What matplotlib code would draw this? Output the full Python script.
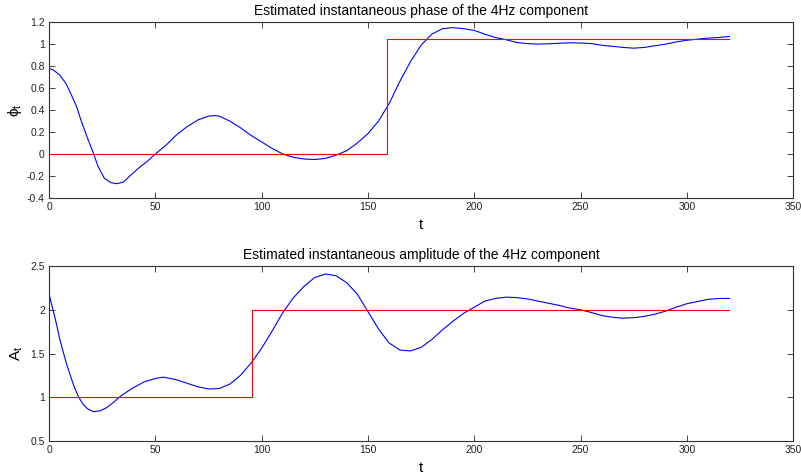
import numpy as np
import matplotlib.pyplot as plt

plt.rcParams['font.family'] = ['Liberation Sans', 'DejaVu Sans']
plt.rcParams['mathtext.fontset'] = 'custom'
plt.rcParams['mathtext.rm'] = 'Liberation Sans'
plt.rcParams['mathtext.it'] = 'Liberation Sans'

# estimated phase (blue)
phase_t = [0, 2, 5, 8, 10, 13, 15, 18, 21, 23, 26, 29, 32, 35, 38, 42, 46, 50, 55,
           60, 65, 70, 75, 78, 80, 85, 90, 95, 100, 105, 110, 115, 120, 125, 130,
           135, 140, 145, 150, 155, 160, 165, 170, 175, 180, 185, 190, 195, 200,
           205, 210, 215, 220, 225, 230, 235, 240, 245, 250, 255, 260, 265, 270,
           275, 280, 285, 290, 295, 300, 305, 310, 315, 320]
phase_est = [0.78, 0.765, 0.72, 0.64, 0.56, 0.43, 0.31, 0.15, 0.0, -0.11, -0.22,
             -0.26, -0.27, -0.255, -0.2, -0.13, -0.07, 0.0, 0.08, 0.175, 0.25, 0.31,
             0.345, 0.35, 0.345, 0.30, 0.24, 0.17, 0.11, 0.05, 0.0, -0.03, -0.045,
             -0.05, -0.04, -0.01, 0.03, 0.10, 0.185, 0.30, 0.46, 0.66, 0.84, 0.99,
             1.09, 1.14, 1.15, 1.14, 1.125, 1.09, 1.06, 1.04, 1.015, 1.005, 1.0,
             1.003, 1.008, 1.012, 1.01, 1.005, 0.99, 0.98, 0.97, 0.963, 0.97, 0.985,
             1.0, 1.02, 1.035, 1.045, 1.055, 1.06, 1.07]
# true phase (red step)
phase_true_t = [0, 159, 159, 320]
phase_true = [0, 0, 1.045, 1.045]

# estimated amplitude (blue)
amp_t = [0, 3, 5, 8, 10, 12, 14, 16, 18, 21, 24, 27, 30, 34, 39, 45, 51, 54, 60,
         65, 70, 75, 80, 85, 90, 95, 100, 105, 110, 115, 120, 125, 130, 135, 140,
         145, 150, 155, 160, 165, 170, 175, 180, 185, 190, 195, 200, 205, 210, 215,
         220, 225, 230, 235, 240, 245, 250, 255, 260, 265, 270, 275, 280, 285, 290,
         295, 300, 305, 310, 315, 320]
amp_est = [2.18, 1.89, 1.67, 1.40, 1.25, 1.11, 1.0, 0.92, 0.87, 0.835, 0.845, 0.88,
           0.935, 1.02, 1.10, 1.18, 1.22, 1.23, 1.2, 1.16, 1.12, 1.095, 1.10, 1.15,
           1.25, 1.39, 1.56, 1.76, 1.97, 2.14, 2.27, 2.37, 2.41, 2.39, 2.31, 2.18,
           1.98, 1.78, 1.62, 1.54, 1.53, 1.57, 1.66, 1.77, 1.87, 1.96, 2.03, 2.10,
           2.13, 2.145, 2.14, 2.125, 2.1, 2.075, 2.05, 2.02, 2.0, 1.97, 1.935,
           1.915, 1.905, 1.91, 1.925, 1.95, 1.985, 2.03, 2.07, 2.095, 2.12, 2.13,
           2.13]
amp_true_t = [0, 95.5, 95.5, 320]
amp_true = [1, 1, 2, 2]

fig = plt.figure(figsize=(8.01, 4.74), dpi=100)
ax1 = fig.add_axes([0.0612, 0.5823, 0.929, 0.371])
ax2 = fig.add_axes([0.0612, 0.0696, 0.929, 0.369])


def style(ax, ylim, yticks):
    ax.set_xlim(0, 350)
    ax.set_ylim(*ylim)
    ax.set_xticks(np.arange(0, 351, 50))
    ax.set_yticks(yticks)
    ax.set_yticklabels([f'{v:g}' for v in yticks])
    ax.tick_params(direction='in', top=True, right=True, length=4, width=0.6,
                   labelsize=7.5, colors='#222222', pad=3)
    for s in ax.spines.values():
        s.set_color('#333333')
        s.set_linewidth(0.8)
    ax.set_xlabel('t', fontsize=11, labelpad=4)


ax1.plot(phase_t, phase_est, color='#0000ff', lw=0.8)
ax1.plot(phase_true_t, phase_true, color='#ff0000', lw=0.8)
style(ax1, (-0.4, 1.2), [-0.4, -0.2, 0, 0.2, 0.4, 0.6, 0.8, 1, 1.2])
ax1.set_ylabel(r'$\phi_t$', fontsize=11, labelpad=2)
ax1.set_title('Estimated instantaneous phase of the 4Hz component', fontsize=10, pad=5)

ax2.plot(amp_t, amp_est, color='#0000ff', lw=0.8)
ax2.plot(amp_true_t, amp_true, color='#ff0000', lw=0.8)
style(ax2, (0.5, 2.5), [0.5, 1, 1.5, 2, 2.5])
ax2.set_ylabel(r'$\mathrm{A}_\mathrm{t}$', fontsize=11, labelpad=4)
ax2.set_title('Estimated instantaneous amplitude of the 4Hz component', fontsize=10, pad=5)

fig.savefig('out.png', dpi=100)
